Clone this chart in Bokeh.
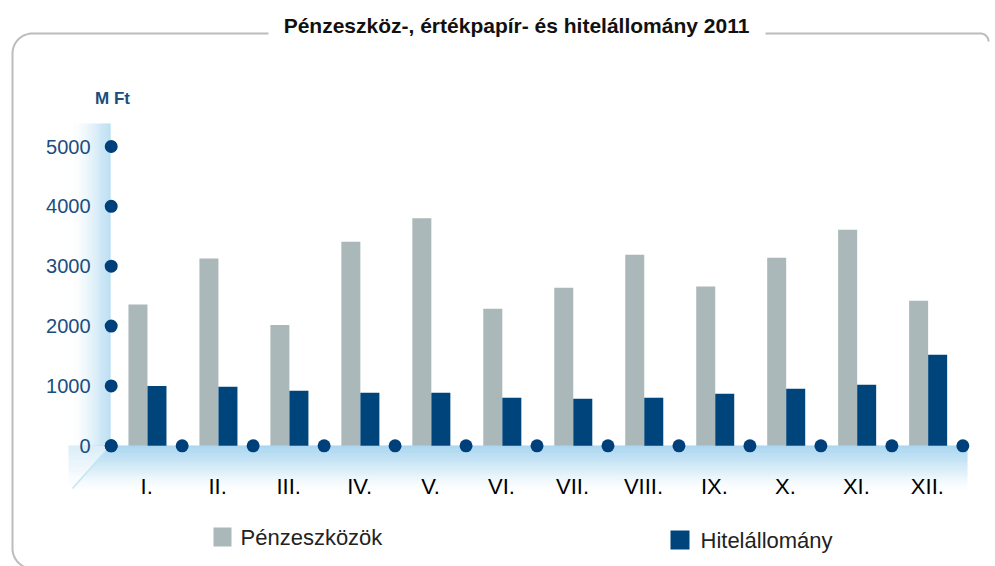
import numpy as np
from bokeh.plotting import figure
from bokeh.models import Range1d
from bokeh.embed import file_html
from bokeh.resources import INLINE
from bokeh.core.properties import value

# ---- data ----
months = ["I.", "II.", "III.", "IV.", "V.", "VI.", "VII.", "VIII.", "IX.", "X.", "XI.", "XII."]
penzeszkozok = [2360, 3130, 2020, 3410, 3800, 2290, 2640, 3190, 2660, 3140, 3610, 2425]
hitelallomany = [1000, 985, 920, 886, 886, 803, 786, 803, 870, 953, 1020, 1522]
y_ticks = [0, 1000, 2000, 3000, 4000, 5000]
title = "Pénzeszköz-, értékpapír- és hitelállomány 2011"
legend_labels = ["Pénzeszközök", "Hitelállomány"]
unit_label = "M Ft"

GRAY = "#abb8b9"
NAVY = "#00447c"
DOT = "#00407a"
TICKBLUE = "#1b4d7e"
LIGHTBLUE = "#9fd1ee"

# ---- geometry (page pixels of the reference -> data) ----
X0, DX = 110.7, 70.97      # pixel of x=0 and pixel per category
Y0, DY = 445.3, 0.05986    # pixel of y=0 and pixel per unit
PX_L, PX_R, PX_T, PX_B = 0, 995, 0, 566

p = figure(width=995, height=566, output_backend="svg", toolbar_location=None,
           x_range=Range1d((PX_L - X0) / DX, (PX_R - X0) / DX),
           y_range=Range1d((Y0 - PX_B) / DY, (Y0 - PX_T) / DY),
           x_axis_location=None, y_axis_location=None, min_border=0)
p.grid.grid_line_color = None
p.outline_line_color = None
p.background_fill_color = "white"
p.border_fill_color = "white"
p.extra_x_ranges = {"px": Range1d(PX_L, PX_R)}
p.extra_y_ranges = {"px": Range1d(PX_B, PX_T)}
PX = dict(x_range_name="px", y_range_name="px")

# ---- gradient band behind y axis ----
n = 40
lefts = [70 + i for i in range(n)]
rights = [71 + i for i in range(n)]
alphas = [((i + 0.5) / n) ** 1.7 * 0.9 for i in range(n)]
p.quad(left=lefts, right=rights, top=[123] * n, bottom=[445.5] * n,
       fill_color=LIGHTBLUE, fill_alpha=alphas, line_color=None, **PX)

# ---- floor gradient ----
m = 46
xs, ys, fa = [], [], []
for j in range(m):
    y0 = 445 + j
    y1 = 446.2 + j
    xl0 = 110 - (y0 - 445) * 0.88
    xl1 = 110 - (y1 - 445) * 0.88
    xs.append([xl0, 967, 967, xl1])
    ys.append([y0, y0, y1, y1])
    fa.append((1 - j / m) ** 1.5 * 0.97)
p.patches(xs=xs, ys=ys, fill_color=LIGHTBLUE, fill_alpha=fa, line_color=None, **PX)
# lower continuation of band, left of diagonal
xs2, ys2, fa2 = [], [], []
for j in range(m):
    y0 = 445 + j
    y1 = 446.2 + j
    xl0 = 110 - (y0 - 445) * 0.88
    xs2.append([68, xl0, xl0, 68])
    ys2.append([y0, y0, y1, y1])
    fa2.append((1 - j / m) ** 1.5 * 0.35)
p.patches(xs=xs2, ys=ys2, fill_color=LIGHTBLUE, fill_alpha=fa2, line_color=None, **PX)
p.line(x=[110, 72], y=[445, 488], line_color="#c4e4f5", line_width=1.5, **PX)

# ---- frame ----
r = 20
t = np.linspace(0, np.pi / 2, 20)
fx = [268, 12 + r] + list(12 + r - r * np.sin(t)) + [12, 12] + list(12 + r - r * np.cos(t))
fy = [33, 33] + list(33 + r - r * np.cos(t)) + [33 + r, 548] + list(548 + r * np.sin(t))
p.line(x=fx, y=fy, line_color="#bcbcbc", line_width=2, **PX)
fx2 = [765, 988 - 8] + list(988 - 8 + 8 * np.sin(t))
fy2 = [33, 33] + list(33 + 8 - 8 * np.cos(t))
p.line(x=fx2, y=fy2, line_color="#bcbcbc", line_width=2, **PX)

# ---- bars ----
centers = np.arange(len(months)) + 0.5
bw = 19 / DX
p.vbar(x=centers - 0.123, top=penzeszkozok, bottom=0, width=bw, fill_color=GRAY, line_color=None)
p.vbar(x=centers + 0.145, top=hitelallomany, bottom=0, width=bw, fill_color=NAVY, line_color=None)

# ---- dots on axes ----
p.scatter(x=list(range(len(months) + 1)), y=[0] * (len(months) + 1), size=13,
          fill_color=DOT, line_color=None)
p.scatter(x=[0] * len(y_ticks), y=y_ticks, size=13, fill_color=DOT, line_color=None)

# ---- tick labels ----
p.text(x=[90] * len(y_ticks), y=y_ticks, text=[str(v) for v in y_ticks],
       text_align="right", text_baseline="middle", text_font=value("Liberation Sans"),
       text_font_size="20px", text_color=TICKBLUE, x_range_name="px")
p.text(x=centers, y=[486] * len(months), text=months, text_align="center",
       text_baseline="middle", text_font=value("Liberation Sans"), text_font_size="22px",
       text_color="#000000", y_range_name="px")
p.text(x=[112], y=[98], text=[unit_label], text_align="center", text_baseline="middle",
       text_font=value("Liberation Sans"), text_font_style="bold", text_font_size="17px",
       text_color=TICKBLUE, **PX)

# ---- title ----
p.text(x=[516], y=[25], text=[title], text_align="center", text_baseline="middle",
       text_font=value("Liberation Sans"), text_font_style="bold", text_font_size="21px",
       text_color="#111111", **PX)

# ---- legend ----
p.quad(left=[213, 670], right=[231, 689], top=[527, 530], bottom=[546, 549],
       fill_color=[GRAY, NAVY], line_color=None, **PX)
p.text(x=[240, 700], y=[537, 540], text=legend_labels, text_align="left",
       text_baseline="middle", text_font=value("Liberation Sans"), text_font_size="22px",
       text_color="#222222", **PX)

open("out.html", "w").write(file_html(p, INLINE))
